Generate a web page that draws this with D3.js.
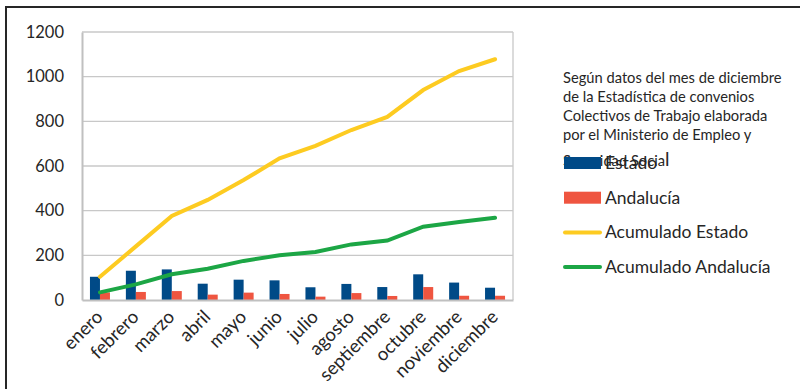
<!DOCTYPE html>
<html><head><meta charset="utf-8">
<script src="https://cdn.jsdelivr.net/npm/d3@7"></script>
<style>body{margin:0;background:#fff}svg{display:block;font-family:Lato,"Open Sans",sans-serif}</style>
</head><body><svg id="c" width="800" height="389"></svg>
<script>
const months = ["enero","febrero","marzo","abril","mayo","junio","julio","agosto","septiembre","octubre","noviembre","diciembre"];
const estado = [104,131,137,73,91,88,57,72,58,115,78,55];
const andalucia = [34,36,40,24,33,27,15,31,18,58,19,19];
const acumEstado = [104,240,376,448,537,634,690,761,820,940,1025,1078];
const acumAndalucia = [34,70,115,140,175,200,215,249,266,328,349,368];
const yTicks = [0,200,400,600,800,1000,1200];
const noteLines = ["Según datos del mes de diciembre","de la Estadística de convenios","Colectivos de Trabajo elaborada","por el Ministerio de Empleo y"];
const legendItems = [
  {name:"Estado", type:"bar", color:"#004a87"},
  {name:"Andalucía", type:"bar", color:"#ef5540"},
  {name:"Acumulado Estado", type:"line", color:"#fdcb21"},
  {name:"Acumulado Andalucía", type:"line", color:"#1ca645"}
];

const svg = d3.select("#c");
const L = 82, R = 513, T = 32, B = 300;
const x = d3.scaleBand().domain(months).range([L, R]).paddingInner(0).paddingOuter(0);
const y = d3.scaleLinear().domain([0,1200]).range([B, T]);

// frame
svg.append("line").attr("x1",6).attr("x2",800).attr("y1",7).attr("y2",7).attr("stroke","#262626").attr("stroke-width",2);
svg.append("line").attr("x1",6).attr("x2",6).attr("y1",6).attr("y2",389).attr("stroke","#262626").attr("stroke-width",2);

// grid
svg.append("g").selectAll("line").data(yTicks.filter(d=>d>0)).join("line")
  .attr("x1",L).attr("x2",R).attr("y1",d=>y(d)).attr("y2",d=>y(d))
  .attr("stroke","#c8c8c8").attr("stroke-width",1.3);
svg.append("line").attr("x1",R).attr("x2",R).attr("y1",T).attr("y2",B).attr("stroke","#c8c8c8").attr("stroke-width",1.3);

// y axis
const yAxis = d3.axisLeft(y).tickValues(yTicks).tickFormat(d3.format("d")).tickSize(0).tickPadding(18);
const gy = svg.append("g").attr("transform",`translate(${L},0)`).call(yAxis);
gy.select(".domain").attr("stroke","#c0c0c0").attr("stroke-width",2);
gy.selectAll("text").attr("font-size",16.5).attr("fill","#262626").attr("font-family","Lato");

// bars
const bars = svg.append("g");
months.forEach((m,i)=>{
  const cx = x(m) + x.bandwidth()/2;
  bars.append("rect").attr("x",cx-10).attr("width",10).attr("y",y(estado[i])).attr("height",B-y(estado[i])).attr("fill","#004a87");
  bars.append("rect").attr("x",cx).attr("width",10).attr("y",y(andalucia[i])).attr("height",B-y(andalucia[i])).attr("fill","#ef5540");
});

// x axis
const xAxis = d3.axisBottom(x).tickSize(0).tickPadding(0);
const gx = svg.append("g").attr("transform",`translate(0,${B})`).call(xAxis);
gx.select(".domain").attr("stroke","#c0c0c0").attr("stroke-width",2);
gx.selectAll("text").attr("font-size",18.5).attr("fill","#262626").attr("font-family","Lato")
  .attr("text-anchor","end").attr("dy",0).attr("transform","translate(4,18) rotate(-45)");

// lines
const lineGen = d3.line().x((d,i)=>x(months[i])+x.bandwidth()/2).y(d=>y(d));
svg.append("path").datum(acumEstado).attr("d",lineGen).attr("fill","none").attr("stroke","#fdcb21").attr("stroke-width",4).attr("stroke-linecap","round");
svg.append("path").datum(acumAndalucia).attr("d",lineGen).attr("fill","none").attr("stroke","#1ca645").attr("stroke-width",4).attr("stroke-linecap","round");

// note text
const note = svg.append("g").attr("font-size",14.7).attr("fill","#262626").attr("font-family","Lato");
noteLines.forEach((t,i)=>note.append("text").attr("x",563).attr("y",83+i*19).text(t));
const last = note.append("text").attr("x",563).attr("y",166);
last.append("tspan").text("Seguridad Socia");
last.append("tspan").attr("font-size",19).text("l");

// legend
const lg = svg.append("g");
legendItems.forEach((d,i)=>{
  const cy = 163 + i*34.7;
  if(d.type==="bar") lg.append("rect").attr("x",564).attr("y",cy-6).attr("width",37).attr("height",12).attr("fill",d.color);
  else lg.append("line").attr("x1",565).attr("x2",600).attr("y1",cy).attr("y2",cy).attr("stroke",d.color).attr("stroke-width",4).attr("stroke-linecap","round");
  lg.append("text").attr("x",605).attr("y",cy+6).attr("font-size",17.5).attr("fill","#262626").attr("font-family","Lato").text(d.name);
});
</script></body></html>
